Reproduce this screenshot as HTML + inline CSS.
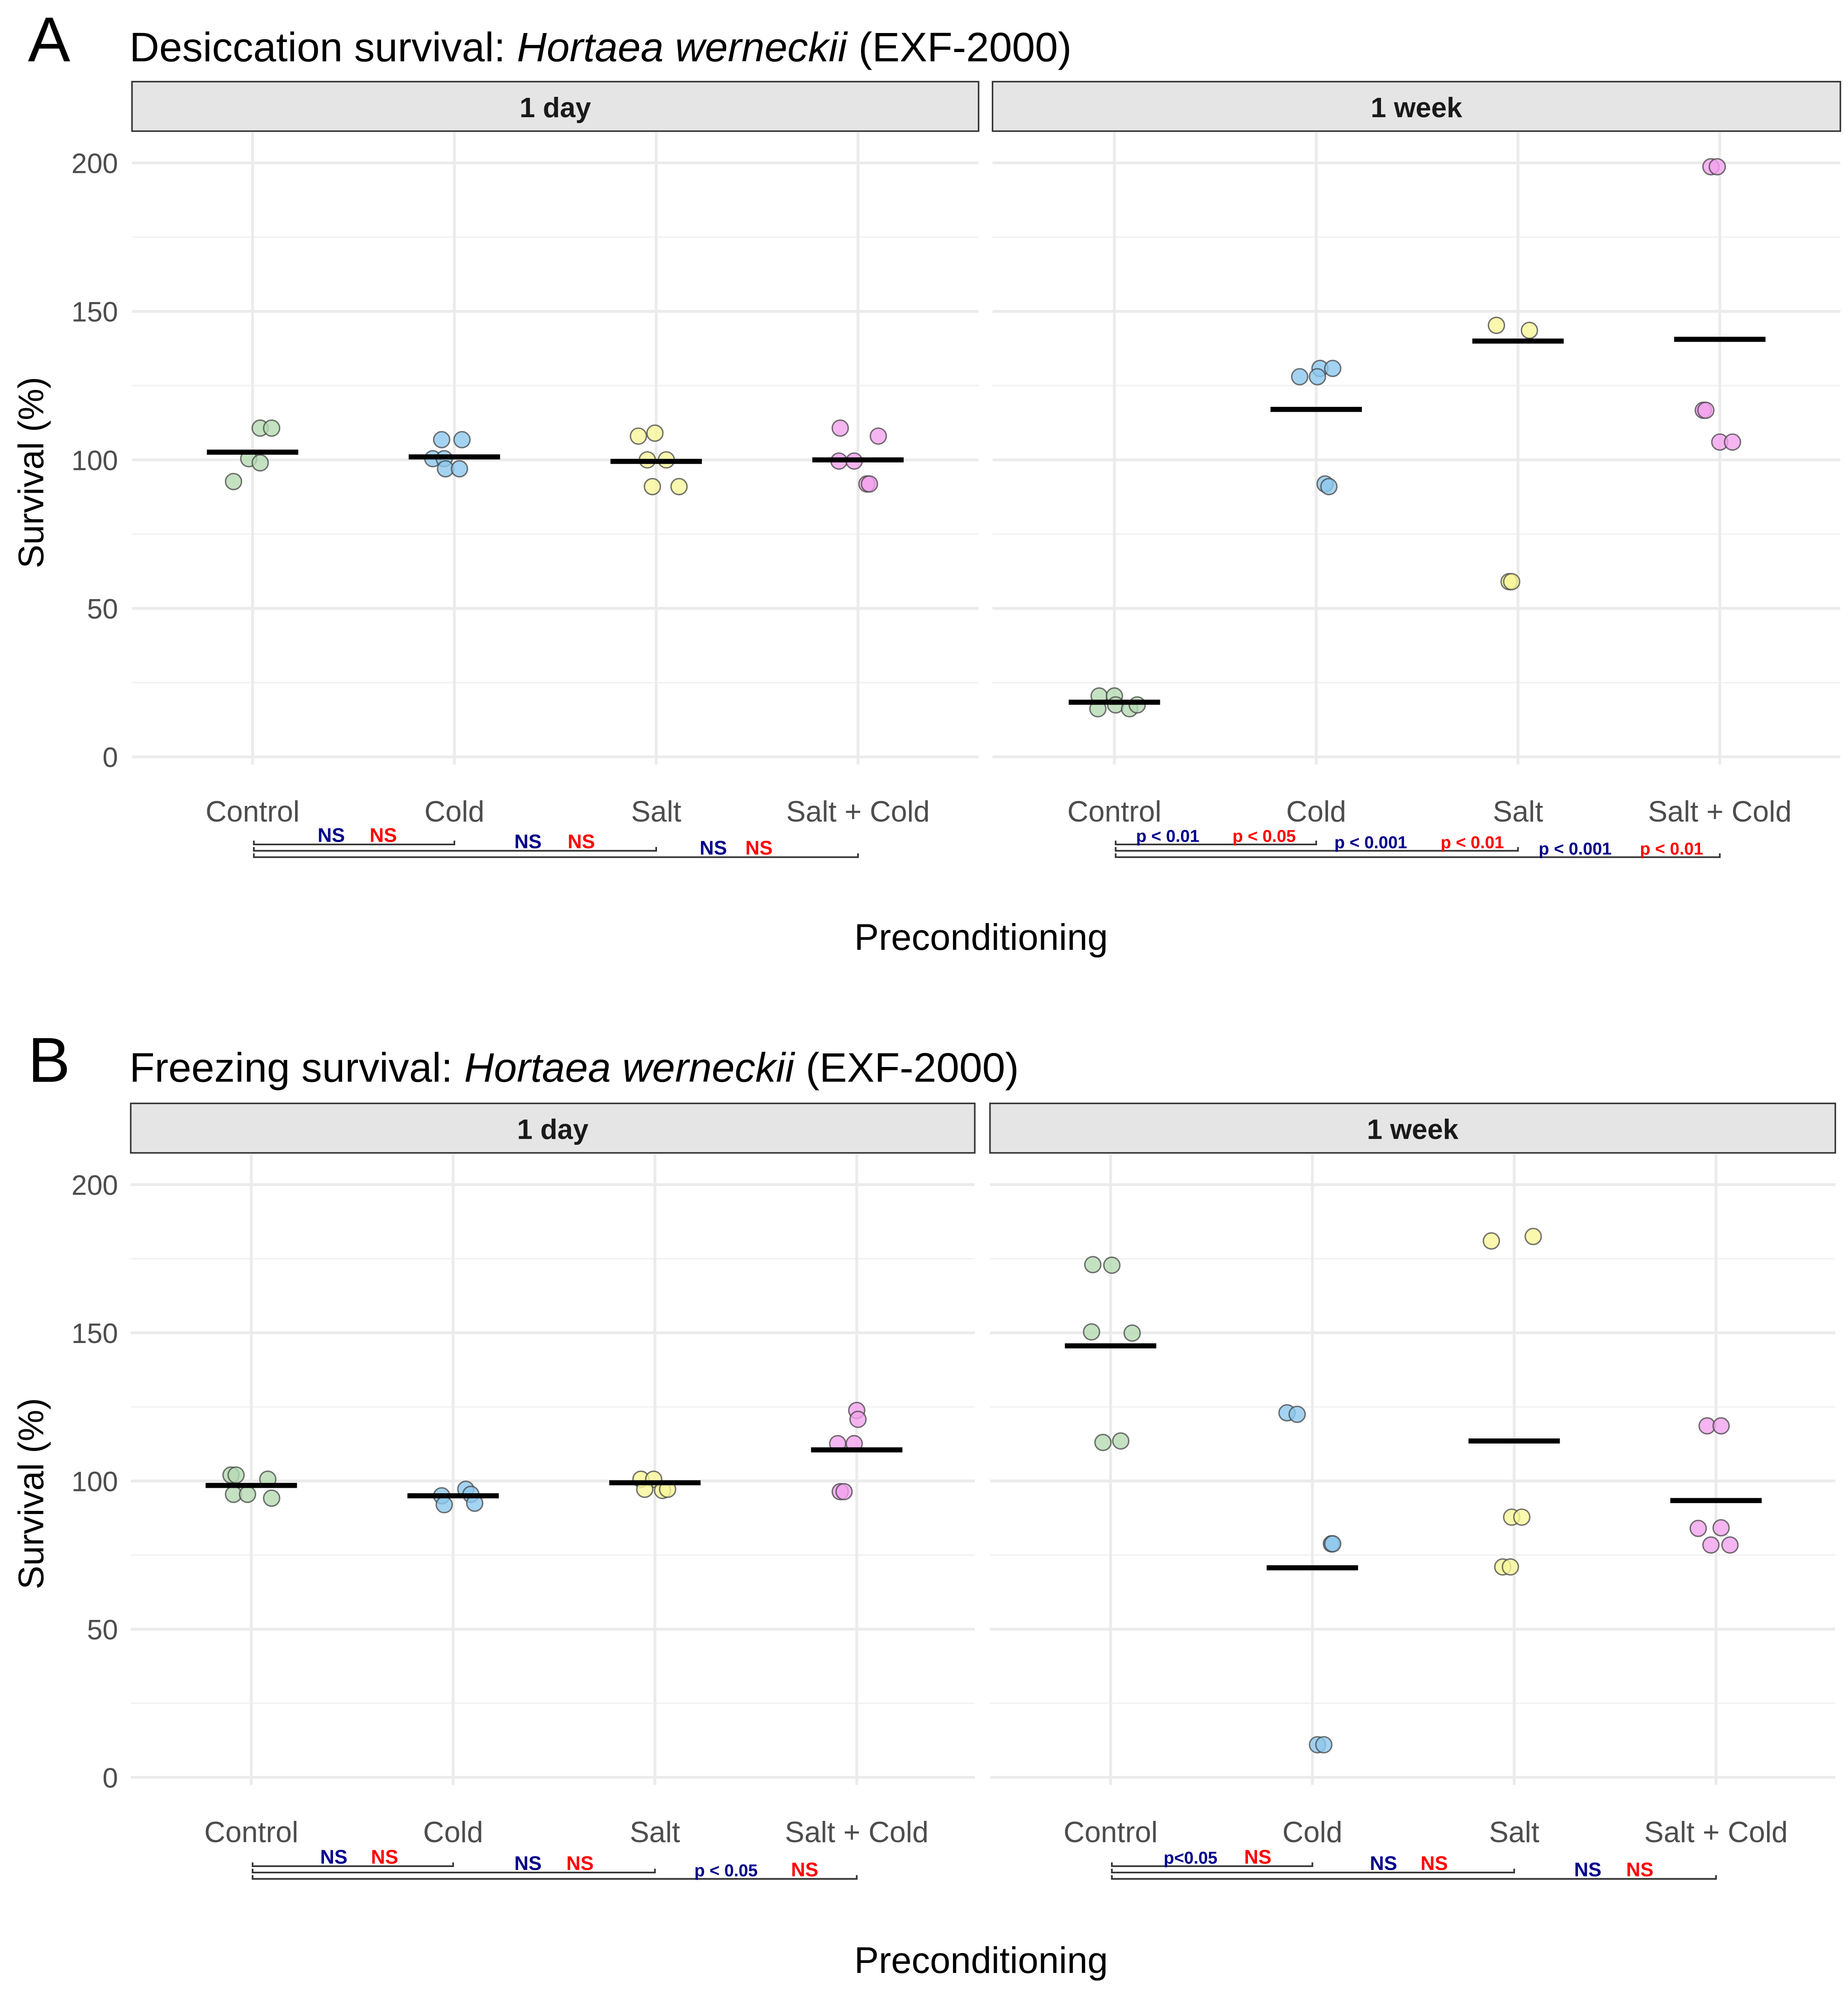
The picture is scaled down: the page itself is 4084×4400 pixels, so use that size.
<!DOCTYPE html>
<html><head><meta charset="utf-8">
<style>
html,body{margin:0;padding:0;background:#fff;}
svg{display:block;font-family:"Liberation Sans",Arial,sans-serif;}
</style></head>
<body>
<svg id="chart" width="4084" height="4400" viewBox="0 0 1456 1568" xmlns="http://www.w3.org/2000/svg"></svg>
<script>
// ---------- data ----------
const categories = ["Control","Cold","Salt","Salt + Cold"];
const facets = ["1 day","1 week"];
const yTicks = [0,50,100,150,200];
// Panel A: desiccation
const aDayValues = [[110.7,110.7,100.4,99,92.7],[106.8,106.8,100.4,100.4,97,97],[108,109,100,100,91,91],[110.7,108,99.6,99.6,91.9,91.9]];
const aDayJitter = [[6,15,-3,6,-15],[-10,6,-17,-8,-7,4],[-14,-1,-7,8,-3,18],[-14,16,-15,-3,7,9]];
const aDayMeans = [102.6,101,99.5,100];
const aWeekValues = [[20.5,20.5,16.2,17.5,16.2,17.5],[128,130.8,130.8,128,91.9,91],[145.3,143.6,59,59],[198.7,198.7,116.7,116.7,106,106]];
const aWeekJitter = [[-12,0,-13,1,12,18],[-13,3,13,1,7,10],[-17,9,-7,-5],[-7,-2,-13,-11,0,10]];
const aWeekMeans = [18.4,117,140,140.6];
// Panel B: freezing
const bDayValues = [[102,102,95.5,95.5,100.6,94.2],[95,92,97.2,95.5,92.5],[100.6,100.6,97.2,96.8,97.2],[112.6,112.6,123.8,120.8,96.4,96.4]];
const bDayJitter = [[-16,-12,-14,-3,13,16],[-9,-7,10,14,17],[-11,-1,-8,6,10],[-15,-2,0,1,-13,-10]];
const bDayMeans = [98.5,95,99.4,110.5];
const bWeekValues = [[173,172.8,150.3,149.9,113,113.5],[123,122.5,78.8,78.8,11,11],[181,182.5,87.8,87.8,71,71],[118.6,118.6,84,84.2,78.4,78.4]];
const bWeekJitter = [[-14,1,-15,17,-6,8],[-20,-12,15,16,4,9],[-18,15,-2,6,-9,-3],[-7,4,-14,4,-4,11]];
const bWeekMeans = [145.6,70.7,113.5,93.4];
// significance labels [navy, red] per comparison vs Control
const aDaySig = [["NS","NS"],["NS","NS"],["NS","NS"]];
const aWeekSig = [["p < 0.01","p < 0.05"],["p < 0.001","p < 0.01"],["p < 0.001","p < 0.01"]];
const bDaySig = [["NS","NS"],["NS","NS"],["p < 0.05","NS"]];
const bWeekSig = [["p<0.05","NS"],["NS","NS"],["NS","NS"]];
const fills = ["#b5dbb3","#8dc8ee","#f8f69a","#f2a3ee"];

const svg = document.getElementById('chart');
const NS = "http://www.w3.org/2000/svg";
function mk(tag, attrs, parent){const e=document.createElementNS(NS,tag);for(const k in attrs)e.setAttribute(k,attrs[k]);(parent||svg).appendChild(e);return e;}

function drawPanel(p){
  const g = mk('g',{});
  
  
  const yS = v => p.y0 - p.k*v;
  const L = mk('text',{x:22,y:p.titleY,'font-size':50,fill:'#000'},g); L.textContent=p.letter;
   
  const T = mk('text',{x:102,y:p.titleY,'font-size':32.5,fill:'#000'},g);
   
  T.innerHTML = p.title+': <tspan font-style="italic">Hortaea werneckii</tspan> (EXF-2000)';
  const yt = mk('text',{x:0,y:0,'font-size':28,fill:'#000','text-anchor':'middle',transform:`translate(34,${(yS(200)+yS(0))/2+10}) rotate(-90)`},g);
  yt.textContent='Survival (%)';
   
  const xt = mk('text',{x:773,y:p.xTitleY,'font-size':29,fill:'#000','text-anchor':'middle'},g);
  xt.textContent='Preconditioning';
   
  yTicks.forEach(t=>{
    const tl = mk('text',{x:93,y:yS(t)+8,'font-size':22,fill:'#4d4d4d','text-anchor':'end'},g);
    tl.textContent=t;
     
  });
  p.facets.forEach((f,fi)=>{
    const fx0=f.x0, fx1=f.x1;
    const cx = i => f.c0 + 159*i;
    for(let v=25; v<=200; v+=50){ mk('line',{x1:fx0,x2:fx1,y1:yS(v),y2:yS(v),stroke:'#f2f2f2','stroke-width':1.2},g); }
    yTicks.forEach(v=>{ const gl=mk('line',{x1:fx0,x2:fx1,y1:yS(v),y2:yS(v),stroke:'#ebebeb','stroke-width':2.2},g);
        });
    categories.forEach((c,i)=>{ mk('line',{x1:cx(i),x2:cx(i),y1:p.stripY+40,y2:yS(0)+6,stroke:'#ebebeb','stroke-width':2.2},g); });
    const sr = mk('rect',{x:fx0,y:p.stripY,width:fx1-fx0,height:39,fill:'#e5e5e5',stroke:'#333','stroke-width':1.2},g);
     
    const st = mk('text',{x:(fx0+fx1)/2,y:p.stripY+28,'font-size':22,'font-weight':'bold',fill:'#1a1a1a','text-anchor':'middle'},g);
    st.textContent=facets[fi];
     
    categories.forEach((c,i)=>{
      const xl=mk('text',{x:cx(i),y:yS(0)+51,'font-size':23,fill:'#4d4d4d','text-anchor':'middle'},g);
      xl.textContent=c;
       
    });
    f.values.forEach((arr,i)=>{
      arr.forEach((v,j)=>{
        const pt=mk('circle',{cx:cx(i)+f.jitter[i][j],cy:yS(v),r:6.3,fill:fills[i],'fill-opacity':0.8,stroke:'#444','stroke-opacity':0.75,'stroke-width':1.1},g);
         
      });
      const ml=mk('line',{x1:cx(i)-36,x2:cx(i)+36,y1:yS(f.means[i]),y2:yS(f.means[i]),stroke:'#000','stroke-width':4},g);
       
    });
    f.sig.forEach((s,k)=>{
      const by = p.brY + 5*k;
      const xa=cx(0)+1, xb=cx(k+1);
      const br=mk('path',{d:`M${xa},${by-3}V${by}H${xb}V${by-3}`,fill:'none',stroke:'#333','stroke-width':1.3},g);
       
      const n=mk('text',{x:f.lab[k][0],y:by-2,'font-size':s[0].startsWith('p')?13.5:15.5,'font-weight':'bold',fill:'#00008b','text-anchor':'middle'},g);
      n.textContent=s[0];
       
      const r=mk('text',{x:f.lab[k][1],y:by-2,'font-size':s[1].startsWith('p')?13.5:15.5,'font-weight':'bold',fill:'#ff0000','text-anchor':'middle'},g);
      r.textContent=s[1];
       
    });
  });
}

drawPanel({name:'panel-a-desiccation',letter:'A',title:'Desiccation survival',titleY:48,y0:596,k:2.34,stripY:64,brY:665,xTitleY:748,
  facets:[
    {x0:104,x1:771,c0:199,values:aDayValues,jitter:aDayJitter,means:aDayMeans,sig:aDaySig,lab:[[261,302],[416,458],[562,598]]},
    {x0:782,x1:1450,c0:878,values:aWeekValues,jitter:aWeekJitter,means:aWeekMeans,sig:aWeekSig,lab:[[920,996],[1080,1160],[1241,1317]]}
  ]});
drawPanel({name:'panel-b-freezing',letter:'B',title:'Freezing survival',titleY:852,y0:1400,k:2.335,stripY:869,brY:1470,xTitleY:1554,
  facets:[
    {x0:103,x1:768,c0:198,values:bDayValues,jitter:bDayJitter,means:bDayMeans,sig:bDaySig,lab:[[263,303],[416,457],[572,634]]},
    {x0:780,x1:1446,c0:875,values:bWeekValues,jitter:bWeekJitter,means:bWeekMeans,sig:bWeekSig,lab:[[938,991],[1090,1130],[1251,1292]]}
  ]});
</script>
</body></html>
